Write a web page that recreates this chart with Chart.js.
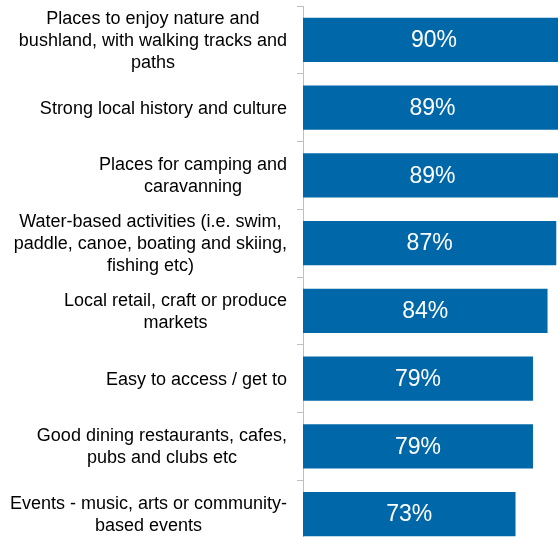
<!DOCTYPE html>
<html>
<head>
<meta charset="utf-8">
<script src="https://cdn.jsdelivr.net/npm/chart.js@4.4.1/dist/chart.umd.min.js"></script>
<style>
    html, body { margin: 0; padding: 0; background: #fff; overflow: hidden; }
    #wrap { width: 565px; height: 548px; }
</style>
</head>
<body>
<div id="wrap"><canvas id="attractChart"></canvas></div>
<script>
// Attributes and share of respondents rating them important
const categories = [
    ['Places to enjoy nature and', 'bushland, with walking tracks and', 'paths'],
    ['Strong local history and culture'],
    ['Places for camping and', 'caravanning'],
    ['Water-based activities (i.e. swim,', 'paddle, canoe, boating and skiing,', 'fishing etc)'],
    ['Local retail, craft or produce', 'markets'],
    ['Easy to access / get to'],
    ['Good dining restaurants, cafes,', 'pubs and clubs etc'],
    ['Events - music, arts or community-', 'based events']
];
const values = [90, 89, 89, 87, 84, 79, 79, 73];
const axisMax = 90;

const LABEL_FONT = '18px "Liberation Sans", Arial, sans-serif';
const VALUE_FONT = '23px "Liberation Sans", Arial, sans-serif';

// Category labels: each block right-aligned to the axis, lines centred within the block
const categoryLabels = {
    id: 'categoryLabels',
    afterDraw(chart) {
        const ctx = chart.ctx;
        const yScale = chart.scales.y;
        const rightEdge = yScale.right - 16;
        const lineHeight = 21.7;
        ctx.save();
        ctx.font = LABEL_FONT;
        ctx.fillStyle = '#000';
        ctx.textAlign = 'center';
        ctx.textBaseline = 'middle';
        categories.forEach((lines, i) => {
            const widest = Math.max(...lines.map(l => ctx.measureText(l).width));
            const cx = rightEdge - widest / 2;
            const cy = yScale.getPixelForValue(i) + 1;
            const top = cy - (lines.length - 1) * lineHeight / 2;
            lines.forEach((line, j) => ctx.fillText(line, cx, top + j * lineHeight));
        });
        ctx.restore();
    }
};

// Percentage written in the middle of each bar
const barValues = {
    id: 'barValues',
    afterDatasetsDraw(chart) {
        const ctx = chart.ctx;
        const meta = chart.getDatasetMeta(0);
        ctx.save();
        ctx.font = VALUE_FONT;
        ctx.fillStyle = '#fff';
        ctx.textAlign = 'center';
        ctx.textBaseline = 'middle';
        meta.data.forEach((bar, i) => {
            ctx.fillText(values[i] + '%', (bar.x + bar.base) / 2, bar.y + 1);
        });
        ctx.restore();
    }
};

new Chart(document.getElementById('attractChart'), {
    type: 'bar',
    data: {
        labels: categories,
        datasets: [{
            data: values,
            backgroundColor: '#0068a8',
            borderWidth: 0,
            categoryPercentage: 1,
            barPercentage: 0.65
        }]
    },
    options: {
        indexAxis: 'y',
        responsive: true,
        maintainAspectRatio: false,
        animation: false,
        layout: { padding: { top: 6, left: 0, right: 0, bottom: 0 } },
        plugins: {
            legend: { display: false },
            tooltip: { enabled: false }
        },
        scales: {
            x: {
                display: false,
                min: 0,
                max: axisMax
            },
            y: {
                ticks: { display: false },
                grid: {
                    drawOnChartArea: false,
                    drawTicks: true,
                    tickLength: 6,
                    color: '#bfbfbf'
                },
                border: { display: true, color: '#bfbfbf', width: 1 },
                afterFit(scale) { scale.width = 303; }
            }
        }
    },
    plugins: [categoryLabels, barValues]
});
</script>
</body>
</html>
